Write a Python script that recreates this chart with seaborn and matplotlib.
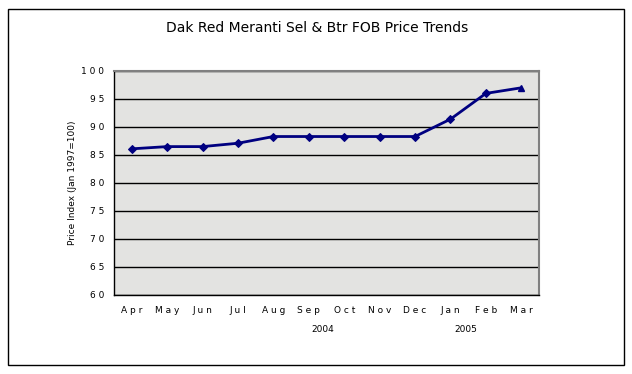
import numpy as np
import pandas as pd
import matplotlib
matplotlib.use("Agg")
import matplotlib.pyplot as plt
import matplotlib.patches as patches
import seaborn as sns

# Data
months = ["Apr", "May", "Jun", "Jul", "Aug", "Sep", "Oct", "Nov", "Dec", "Jan", "Feb", "Mar"]
price_index = [86.1, 86.5, 86.5, 87.1, 88.3, 88.3, 88.3, 88.3, 88.3, 91.4, 96.0, 97.0]
years = ["2004", "2005"]

sns.set_style("white")
plt.rcParams["font.family"] = ["DejaVu Sans"]
plt.rcParams.update({"text.color": "black", "axes.labelcolor": "black",
                     "xtick.color": "black", "ytick.color": "black"})

df = pd.DataFrame({"pos": np.arange(len(months)), "month": months, "value": price_index})

fig = plt.figure(figsize=(6.32, 3.74), dpi=100)
ax = fig.add_axes([114 / 632, 79 / 374, 425 / 632, 224 / 374])
ax.set_facecolor("#e3e3e1")

sns.lineplot(data=df.iloc[:-1], x="pos", y="value", ax=ax, color="#000080",
             linewidth=2, marker="D", markersize=4, markeredgecolor="#000080")
ax.plot(df["pos"].iloc[-2:], df["value"].iloc[-2:], color="#000080", linewidth=2)
ax.plot(df["pos"].iloc[-1], df["value"].iloc[-1], marker="^", color="#000080",
        markersize=4.5, linestyle="none")

ax.set_xlim(-0.5, len(months) - 0.5)
ax.set_ylim(60, 100)
ax.set_yticks(np.arange(60, 101, 5))
ax.set_yticklabels([" ".join(str(v)) for v in range(60, 101, 5)], fontsize=6.5)
ax.yaxis.grid(True, color="black", linewidth=1)
ax.set_axisbelow(True)

# category ticks between months, labels centred
ax.set_xticks(np.arange(-0.5, len(months), 1))
ax.set_xticklabels([])
ax.set_xticks(df["pos"], minor=True)
ax.set_xticklabels([" ".join(m) for m in months], minor=True, fontsize=6.5)
ax.tick_params(axis="x", which="minor", length=0, pad=8)
ax.tick_params(axis="x", which="major", direction="out", length=4, width=1, color="black")
ax.tick_params(axis="y", direction="out", length=4, width=1, color="black", pad=3)

for side in ["top", "right"]:
    ax.spines[side].set_color("#808080")
    ax.spines[side].set_linewidth(1.5)
for side in ["left", "bottom"]:
    ax.spines[side].set_color("black")
    ax.spines[side].set_linewidth(1)

ax.set_xlabel("")
ax.set_ylabel("Price Index (Jan 1997=100)", fontsize=6.5, labelpad=3)

# year labels under month labels
ax.text(5.4, -0.155, years[0], transform=ax.get_xaxis_transform(),
        ha="center", va="center", fontsize=6.5)
ax.text(9.44, -0.155, years[1], transform=ax.get_xaxis_transform(),
        ha="center", va="center", fontsize=6.5)

fig.text(317 / 632, 1 - 28 / 374, "Dak Red Meranti Sel & Btr FOB Price Trends",
         ha="center", va="center", fontsize=10)

fig.patches.append(patches.Rectangle((8 / 632, 9 / 374), 616 / 632, 356 / 374,
                                     transform=fig.transFigure, fill=False,
                                     edgecolor="black", linewidth=1))

fig.savefig("out.png", dpi=100)
